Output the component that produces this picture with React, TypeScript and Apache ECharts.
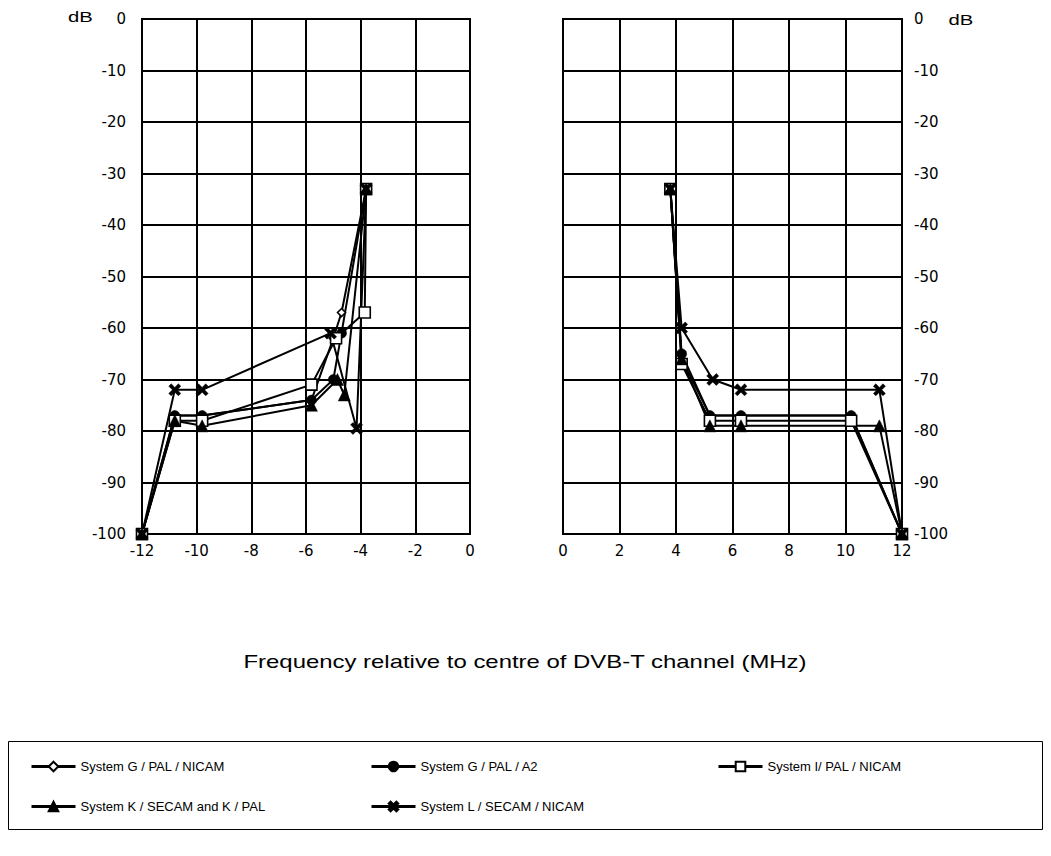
import React, { useEffect, useRef } from "react";
import * as echarts from "echarts";

// ---- data ----
const names = [
  "System G / PAL / NICAM",
  "System G / PAL / A2",
  "System I/ PAL / NICAM",
  "System K / SECAM and K / PAL",
  "System L / SECAM / NICAM",
];

const leftGNicam = [[-12, -100], [-10.8, -77], [-9.8, -77], [-5.8, -74], [-5.0, -62], [-4.7, -57], [-3.8, -33]];
const leftGA2 = [[-12, -100], [-10.8, -77], [-9.8, -77], [-5.8, -74], [-5.0, -70], [-4.7, -61], [-3.8, -33]];
const leftI = [[-12, -100], [-10.8, -78], [-9.8, -78], [-5.8, -71], [-4.9, -62], [-3.85, -57], [-3.8, -33]];
const leftK = [[-12, -100], [-10.8, -78], [-9.8, -79], [-5.8, -75], [-4.85, -70], [-4.6, -73], [-3.8, -33]];
const leftL = [[-12, -100], [-10.8, -72], [-9.8, -72], [-5.1, -61], [-4.15, -79.5], [-3.8, -33]];

const rightGNicam = [[3.8, -33], [4.2, -66], [5.2, -77], [6.3, -77], [10.2, -77], [12, -100]];
const rightGA2 = [[3.8, -33], [4.2, -65], [5.2, -77], [6.3, -77], [10.2, -77], [12, -100]];
const rightI = [[3.8, -33], [4.2, -67], [5.2, -78], [6.3, -78], [10.2, -78], [12, -100]];
const rightK = [[3.8, -33], [4.2, -66], [5.2, -79], [6.3, -79], [11.2, -79], [12, -100]];
const rightL = [[3.8, -33], [4.2, -60], [5.3, -70], [6.3, -72], [11.2, -72], [12, -100]];

const xTitle = "Frequency relative to centre of DVB-T channel (MHz)";
const yUnit = "dB";

const CROSS = "path://M2,0 L5,3 L8,0 L10,2 L7,5 L10,8 L8,10 L5,7 L2,10 L0,8 L3,5 L0,2 Z";

const markers: any[] = [
  { symbol: "diamond", size: 8, fill: "#fff" },
  { symbol: "circle", size: 10, fill: "#000" },
  { symbol: "rect", size: 11, fill: "#fff" },
  { symbol: "triangle", size: 12, fill: "#000" },
  { symbol: CROSS, size: 12, fill: "#000" },
];

const leftData = [leftGNicam, leftGA2, leftI, leftK, leftL];
const rightData = [rightGNicam, rightGA2, rightI, rightK, rightL];

const FONT = "'Liberation Sans', Arial, sans-serif";
const TICKFONT = "'DejaVu Sans', 'Liberation Sans', sans-serif";

export default function App() {
  const ref = useRef<HTMLDivElement>(null);
  useEffect(() => {
    if (!ref.current) return;
    const chart = echarts.init(ref.current, undefined, { renderer: "svg" });

    const mkSeries = (data: number[][], i: number, side: number) => ({
      type: "line",
      name: names[i],
      xAxisIndex: side,
      yAxisIndex: side,
      data,
      symbol: markers[i].symbol,
      symbolSize: markers[i].size,
      showAllSymbol: true,
      lineStyle: { color: "#000", width: 2 },
      itemStyle: { color: markers[i].fill, borderColor: "#000", borderWidth: markers[i].fill === "#fff" ? 1.6 : 0.5 },
      z: 3,
    });

    const series: any[] = [];
    leftData.forEach((d, i) => series.push(mkSeries(d, i, 0)));
    rightData.forEach((d, i) => series.push(mkSeries(d, i, 1)));

    // legend item positions (chart coords; page = +8)
    const legendPos = [
      [17, 747],
      [357, 747],
      [704, 747],
      [17, 787],
      [357, 787],
    ];

    const yAxisBase = {
      type: "value",
      min: -100,
      max: 0,
      interval: 10,
      splitLine: { show: true, lineStyle: { color: "#000", width: 2 } },
      axisLine: { show: false },
      axisTick: { show: true, length: 5, lineStyle: { color: "#000", width: 2 } },
      axisLabel: { color: "#000", fontFamily: TICKFONT, fontSize: 15 },
    };
    const xAxisBase = {
      type: "value",
      interval: 2,
      splitLine: { show: true, lineStyle: { color: "#000", width: 2 } },
      axisLine: { show: false },
      axisTick: { show: false },
      axisLabel: { color: "#000", fontFamily: TICKFONT, fontSize: 15, margin: 9 },
    };

    chart.setOption({
      animation: false,
      backgroundColor: "#fff",
      grid: [
        { left: 134, top: 11, width: 328, height: 515, show: true, borderColor: "#000", borderWidth: 2, backgroundColor: "transparent" },
        { left: 555, top: 11, width: 339, height: 515, show: true, borderColor: "#000", borderWidth: 2, backgroundColor: "transparent" },
      ],
      xAxis: [
        { ...xAxisBase, gridIndex: 0, min: -12, max: 0 },
        { ...xAxisBase, gridIndex: 1, min: 0, max: 12 },
      ],
      yAxis: [
        { ...yAxisBase, gridIndex: 0, position: "left", axisLabel: { ...yAxisBase.axisLabel, margin: 16 } },
        { ...yAxisBase, gridIndex: 1, position: "right", axisLabel: { ...yAxisBase.axisLabel, margin: 12 } },
      ],
      legend: names.map((n, i) => ({
        data: [n],
        left: legendPos[i][0],
        top: legendPos[i][1],
        itemWidth: 44,
        itemHeight: 12,
        itemGap: 0,
        selectedMode: false,
        lineStyle: { width: 3 },
        textStyle: { color: "#000", fontFamily: FONT, fontSize: 13 },
      })),
      graphic: [
        {
          type: "text", x: 72.5, y: 9, scaleX: 1.35,
          style: { text: yUnit, fill: "#000", font: `15px ${FONT}`, textAlign: "center", textVerticalAlign: "middle" },
        },
        {
          type: "text", x: 953, y: 12, scaleX: 1.35,
          style: { text: yUnit, fill: "#000", font: `15px ${FONT}`, textAlign: "center", textVerticalAlign: "middle" },
        },
        {
          type: "text", x: 517, y: 654, scaleX: 1.33,
          style: { text: xTitle, fill: "#000", font: `18px ${FONT}`, textAlign: "center", textVerticalAlign: "middle" },
        },
        {
          type: "rect",
          shape: { x: 0.5, y: 733.5, width: 1034, height: 88 },
          style: { fill: "none", stroke: "#000", lineWidth: 1 },
        },
      ],
      series,
    });

    return () => chart.dispose();
  }, []);

  return <div ref={ref} style={{ width: 1043, height: 848 }} />;
}
